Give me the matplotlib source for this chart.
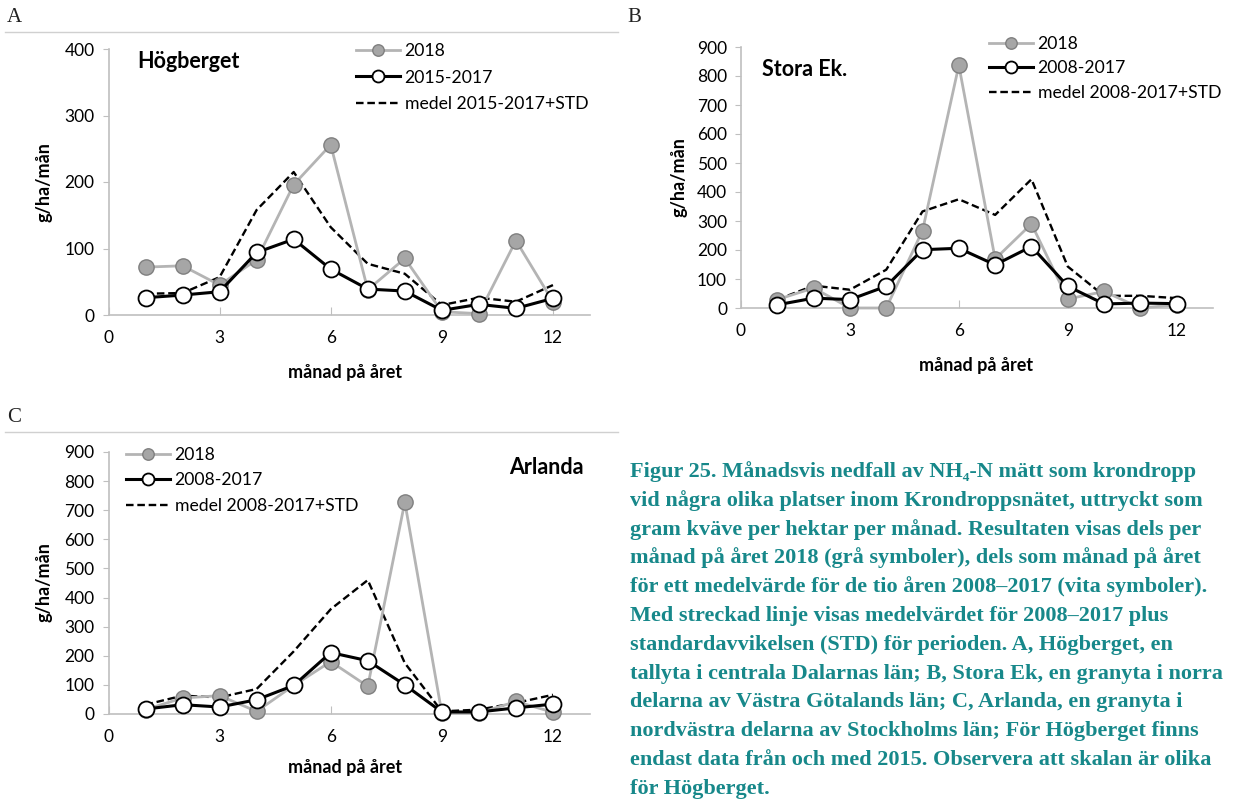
import matplotlib
matplotlib.use("Agg")
import matplotlib.pyplot as plt

# Months
months = [1, 2, 3, 4, 5, 6, 7, 8, 9, 10, 11, 12]

# A - Högberget
hog_2018 = [72, 74, 45, 83, 196, 256, 38, 85, 5, 2, 112, 20]
hog_mean = [26, 30, 35, 94, 114, 69, 39, 36, 7, 16, 10, 25]
hog_std = [32, 33, 57, 158, 215, 132, 77, 62, 15, 26, 20, 45]

# B - Stora Ek.
sto_2018 = [29, 69, 0, 0, 267, 837, 169, 290, 31, 57, 0, 11]
sto_mean = [11, 34, 29, 75, 201, 206, 149, 212, 75, 14, 17, 15]
sto_std = [29, 77, 63, 132, 333, 375, 321, 444, 143, 42, 42, 34]

# C - Arlanda
arl_2018 = [15, 55, 63, 9, 98, 180, 95, 728, 3, 3, 43, 6]
arl_mean = [17, 32, 24, 49, 98, 211, 183, 100, 7, 7, 21, 34]
arl_std = [32, 63, 57, 86, 215, 360, 460, 175, 9, 15, 38, 66]

xticks = [0, 3, 6, 9, 12]

caption_lines = [
    "Figur 25. Månadsvis nedfall av NH\u2084-N mätt som krondropp",
    "vid några olika platser inom Krondroppsnätet, uttryckt som",
    "gram kväve per hektar per månad. Resultaten visas dels per",
    "månad på året 2018 (grå symboler), dels som månad på året",
    "för ett medelvärde för de tio åren 2008\u20132017 (vita symboler).",
    "Med streckad linje visas medelvärdet för 2008\u20132017 plus",
    "standardavvikelsen (STD) för perioden. A, Högberget, en",
    "tallyta i centrala Dalarnas län; B, Stora Ek, en granyta i norra",
    "delarna av Västra Götalands län; C, Arlanda, en granyta i",
    "nordvästra delarna av Stockholms län; För Högberget finns",
    "endast data från och med 2015. Observera att skalan är olika",
    "för Högberget.",
]

plt.rcParams['font.family'] = ['Lato', 'DejaVu Sans']

W, H = 1235, 802
fig = plt.figure(figsize=(W / 100, H / 100), dpi=100)
fig.patch.set_facecolor('white')


def fx(px):
    return px / W


def fy(py):
    return 1 - py / H


def panel(box, d2018, dmean, dstd, ymax, period, station, st_pos, st_ha,
          leg_pos, leg_sp, ylab_pos, xlab_pos):
    left, top, right, bottom = box
    ax = fig.add_axes([fx(left), fy(bottom), fx(right) - fx(left), fy(top) - fy(bottom)])
    ax.plot(months, d2018, color='#b4b4b4', lw=2, marker='o', ms=11,
            mfc='#a6a6a6', mec='#7f7f7f', mew=1, clip_on=False, zorder=3,
            label='2018')
    ax.plot(months, dmean, color='black', lw=2.2, marker='o', ms=11.5,
            mfc='white', mec='black', mew=1.3, clip_on=False, zorder=4,
            label=period)
    ax.plot(months, dstd, color='black', lw=1.7, ls=(0, (3.2, 1.6)),
            clip_on=False, zorder=2, label='medel ' + period + '+STD')
    ax.set_xlim(0, 13)
    ax.set_ylim(0, ymax)
    ax.set_xticks(xticks)
    ax.set_yticks(range(0, ymax + 1, 100))
    for s in ['top', 'right']:
        ax.spines[s].set_visible(False)
    for s in ['left', 'bottom']:
        ax.spines[s].set_color('#bfbfbf')
        ax.spines[s].set_linewidth(1.2)
    ax.tick_params(axis='x', direction='in', length=6, color='#bfbfbf',
                   labelsize=12.5, pad=11)
    ax.tick_params(axis='y', direction='out', length=4, color='#bfbfbf',
                   labelsize=12.5, pad=6)
    fig.text(fx(xlab_pos[0]), fy(xlab_pos[1]), 'månad på året', fontsize=13,
             fontweight='bold', ha='center', va='center')
    fig.text(fx(ylab_pos[0]), fy(ylab_pos[1]), 'g/ha/mån', fontsize=13,
             fontweight='bold', ha='center', va='center', rotation=90)
    fig.text(fx(st_pos[0]), fy(st_pos[1]), station,
             fontsize=15.5, fontweight='bold', ha=st_ha, va='center')
    ax.legend(loc='upper left', bbox_to_anchor=(fx(leg_pos[0]), fy(leg_pos[1])),
              bbox_transform=fig.transFigure, frameon=False,
              fontsize=12.7, handlelength=2.5, handletextpad=0.25,
              labelspacing=leg_sp, borderaxespad=0, borderpad=0,
              markerscale=0.75)
    return ax


axA = panel((108.5, 49, 590, 315), hog_2018, hog_mean, hog_std, 400,
            '2015-2017', 'Högberget', (137, 62), 'left', (356, 43), 0.6,
            (44, 182), (345, 373))
axB = panel((741, 47, 1213, 308), sto_2018, sto_mean, sto_std, 900,
            '2008-2017', 'Stora Ek.', (762, 70), 'left', (989, 36), 0.48,
            (679, 177), (976, 365))
axC = panel((108.5, 452, 590, 714), arl_2018, arl_mean, arl_std, 900,
            '2008-2017', 'Arlanda', (584, 468), 'right', (126, 447), 0.53,
            (44, 582), (345, 768))

# panel letters and rules
serif = ['Liberation Serif', 'DejaVu Serif']
fig.text(fx(7), fy(17), 'A', family=serif, fontsize=15, va='center', color='#222222')
fig.text(fx(627), fy(17), 'B', family=serif, fontsize=15, va='center', color='#222222')
fig.text(fx(7), fy(418), 'C', family=serif, fontsize=15, va='center', color='#222222')
fig.add_artist(plt.Line2D([fx(5), fx(618)], [fy(32), fy(32)], color='#d0d0d0', lw=1))
fig.add_artist(plt.Line2D([fx(5), fx(618)], [fy(432), fy(432)], color='#d0d0d0', lw=1))

# caption
y0 = 477
for i, line in enumerate(caption_lines):
    fig.text(fx(630), fy(y0 + i * 28.8), line, family=serif, fontsize=16,
             fontweight='bold', color='#17888a', va='baseline', ha='left')

fig.savefig('out.png', dpi=100, facecolor='white')
